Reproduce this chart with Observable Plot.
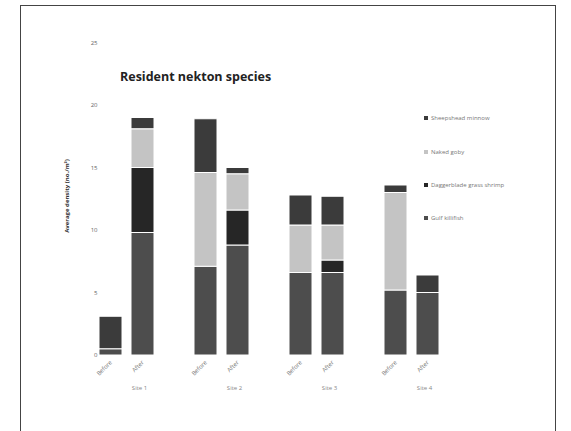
<!DOCTYPE html>
<html><head><meta charset="utf-8">
<script src="https://cdn.jsdelivr.net/npm/d3@7"></script>
<script src="https://cdn.jsdelivr.net/npm/@observablehq/plot@0.6"></script>
<style>
body{margin:0;width:571px;height:431px;overflow:hidden;background:#fff;font-family:"Open Sans",sans-serif;position:relative}
#frame{position:absolute;left:20px;top:5px;width:534px;height:440px;border:1px solid #444;}
#title{position:absolute;left:120px;top:68px;font-weight:bold;font-size:12.5px;color:#222;white-space:nowrap}
#chart{position:absolute;left:0;top:0}
#ytitle{position:absolute;left:17px;top:192px;width:100px;text-align:center;font-size:6px;font-weight:bold;color:#333;transform:rotate(-90deg);white-space:nowrap}
.li{position:absolute;left:424px;font-size:6px;color:#777;white-space:nowrap;line-height:8px}
.sw{display:inline-block;width:4px;height:4px;margin-right:3px;vertical-align:middle}
</style></head>
<body>
<div id="frame"></div>
<div id="chart"></div>
<div id="title">Resident nekton species</div>
<div id="ytitle">Average density (no./m²)</div>
<div id="legend"></div>
<script>
const groups = ["Site 1", "Site 2", "Site 3", "Site 4"];
const periods = ["Before", "After"];
// stacking order bottom → top
const species = ["Gulf killifish", "Daggerblade grass shrimp", "Naked goby", "Sheepshead minnow"];
const colors = ["#4d4d4d", "#262626", "#c4c4c4", "#3b3b3b"];
// bar order: Site1 Before, Site1 After, Site2 Before, ...
const gulfKillifish   = [0.5, 9.8, 7.1, 8.8, 6.6, 6.6, 5.2, 5.0];
const grassShrimp     = [0.0, 5.2, 0.0, 2.8, 0.0, 1.0, 0.0, 0.0];
const nakedGoby       = [0.0, 3.1, 7.5, 2.9, 3.8, 2.8, 7.8, 0.0];
const sheepshead      = [2.6, 0.9, 4.3, 0.5, 2.4, 2.3, 0.6, 1.4];
const yTicks = [0, 5, 10, 15, 20, 25];

const series = [gulfKillifish, grassShrimp, nakedGoby, sheepshead];
const rows = [];
series.forEach((vals, si) => vals.forEach((v, i) => rows.push({
  species: species[si], group: groups[Math.floor(i / 2)], period: periods[i % 2], value: v
})));

const chart = Plot.plot({
  width: 571, height: 420,
  marginLeft: 78, marginRight: 110, marginTop: 42.5, marginBottom: 65,
  style: {fontFamily: "Open Sans, sans-serif", background: "transparent"},
  fx: {domain: groups, paddingInner: 0.406, paddingOuter: 0.2, label: null},
  x: {domain: periods, paddingInner: 0.27, paddingOuter: 0, label: null},
  y: {domain: [0, 25], label: null},
  color: {domain: species, range: colors},
  marks: [
    Plot.barY(rows, {fx: "group", x: "period", y: "value", fill: "species", stroke: "white", strokeWidth: 1, order: species}),
    Plot.axisY({ticks: yTicks, tickSize: 0, dx: 7, fontSize: 6, fill: "#666", label: null}),
    Plot.axisX({tickSize: 0, tickRotate: -45, tickPadding: 6, fontSize: 6, fill: "#777", label: null}),
    Plot.axisFx({anchor: "bottom", tickSize: 0, tickPadding: 30, dx: 12, fontSize: 6, fill: "#888", label: null})
  ]
});
document.getElementById("chart").appendChild(chart);

const legendY = [114, 148, 181, 214];
const leg = document.getElementById("legend");
[3, 2, 1, 0].forEach((si, k) => {
  const d = document.createElement("div");
  d.className = "li";
  d.style.top = legendY[k] + "px";
  d.innerHTML = `<span class="sw" style="background:${colors[si]}"></span>${species[si]}`;
  leg.appendChild(d);
});
</script>
</body></html>
